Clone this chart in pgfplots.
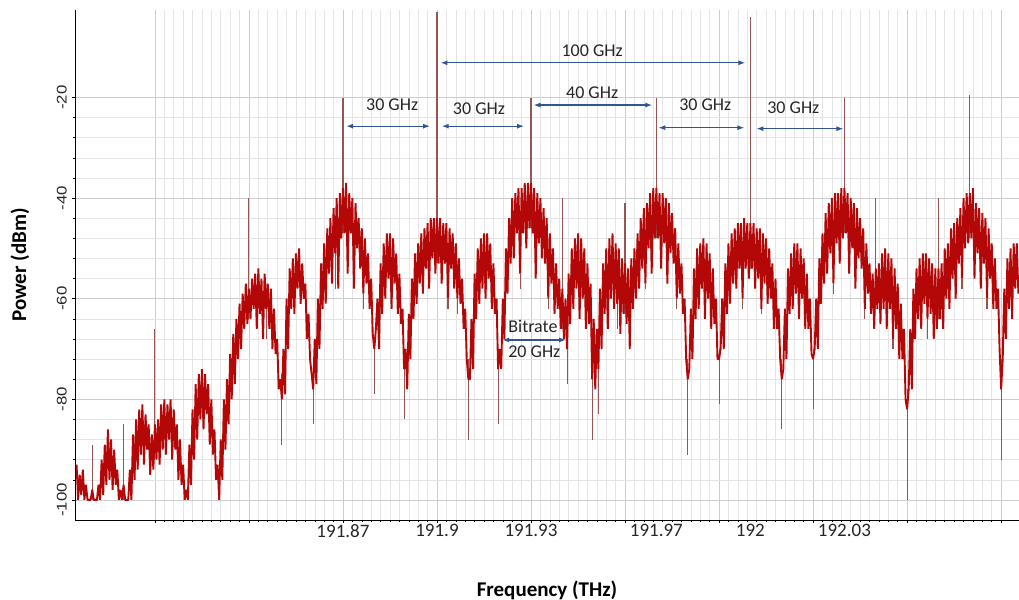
\documentclass[border=0pt]{standalone}
\usepackage{pgfplots}
\pgfplotsset{compat=1.18}
\usepackage{pgfplotstable}
\usepackage{fontspec}
\setmainfont{Carlito}
\newfontfamily\arialfont{Liberation Sans}
\usetikzlibrary{arrows.meta}
\definecolor{trace}{RGB}{180,8,8}
\definecolor{stick}{RGB}{150,85,85}
\definecolor{annblue}{RGB}{47,85,151}
\definecolor{gridmaj}{RGB}{205,205,205}
\definecolor{gridmin}{RGB}{228,228,228}
\pgfplotstableread[row sep=\\]{
x y\\
191.7850 -93\\ 191.7855 -100\\ 191.7860 -95\\ 191.7865 -99\\ 191.7870 -94\\ 191.7875 -100\\ 191.7880 -97\\ 191.7885 -100\\
191.7890 -100\\ 191.7895 -100\\ 191.7900 -98\\ 191.7905 -100\\ 191.7910 -100\\ 191.7915 -100\\ 191.7920 -97\\ 191.7925 -100\\
191.7930 -92\\ 191.7935 -99\\ 191.7940 -89\\ 191.7945 -97\\ 191.7950 -86\\ 191.7955 -96\\ 191.7960 -88\\ 191.7965 -98\\
191.7970 -90\\ 191.7975 -97\\ 191.7980 -94\\ 191.7985 -100\\ 191.7990 -98\\ 191.7995 -100\\ 191.8000 -97\\ 191.8005 -100\\
191.8010 -100\\ 191.8015 -100\\ 191.8020 -94\\ 191.8025 -100\\ 191.8030 -87\\ 191.8035 -96\\ 191.8040 -84\\ 191.8045 -94\\
191.8050 -82\\ 191.8055 -91\\ 191.8060 -81\\ 191.8065 -93\\ 191.8070 -83\\ 191.8075 -90\\ 191.8080 -85\\ 191.8085 -95\\
191.8090 -87\\ 191.8095 -94\\ 191.8100 -85\\ 191.8105 -92\\ 191.8110 -84\\ 191.8115 -93\\ 191.8120 -81\\ 191.8125 -90\\
191.8130 -80\\ 191.8135 -91\\ 191.8140 -81\\ 191.8145 -88\\ 191.8150 -80\\ 191.8155 -92\\ 191.8160 -82\\ 191.8165 -90\\
191.8170 -85\\ 191.8175 -96\\ 191.8180 -88\\ 191.8185 -97\\ 191.8190 -93\\ 191.8195 -100\\ 191.8200 -98\\ 191.8205 -100\\
191.8210 -89\\ 191.8215 -97\\ 191.8220 -82\\ 191.8225 -92\\ 191.8230 -77\\ 191.8235 -88\\ 191.8240 -75\\ 191.8245 -84\\
191.8250 -74\\ 191.8255 -86\\ 191.8260 -75\\ 191.8265 -83\\ 191.8270 -77\\ 191.8275 -89\\ 191.8280 -80\\ 191.8285 -91\\
191.8290 -86\\ 191.8295 -96\\ 191.8300 -93\\ 191.8305 -100\\ 191.8310 -88\\ 191.8315 -96\\ 191.8320 -80\\ 191.8325 -90\\
191.8330 -76\\ 191.8335 -85\\ 191.8340 -71\\ 191.8345 -80\\ 191.8350 -67\\ 191.8355 -77\\ 191.8360 -64\\ 191.8365 -72\\
191.8370 -61\\ 191.8375 -70\\ 191.8380 -59\\ 191.8385 -66\\ 191.8390 -57\\ 191.8395 -65\\ 191.8400 -58\\ 191.8405 -64\\
191.8410 -56\\ 191.8415 -62\\ 191.8420 -55\\ 191.8425 -66\\ 191.8430 -54\\ 191.8435 -63\\ 191.8440 -56\\ 191.8445 -68\\
191.8450 -55\\ 191.8455 -62\\ 191.8460 -57\\ 191.8465 -66\\ 191.8470 -58\\ 191.8475 -70\\ 191.8480 -62\\ 191.8485 -71\\
191.8490 -68\\ 191.8495 -78\\ 191.8500 -76\\ 191.8505 -80\\ 191.8510 -70\\ 191.8515 -79\\ 191.8520 -60\\ 191.8525 -70\\
191.8530 -54\\ 191.8535 -62\\ 191.8540 -52\\ 191.8545 -63\\ 191.8550 -51\\ 191.8555 -58\\ 191.8560 -50\\ 191.8565 -61\\
191.8570 -53\\ 191.8575 -60\\ 191.8580 -57\\ 191.8585 -68\\ 191.8590 -63\\ 191.8595 -72\\ 191.8600 -75\\ 191.8605 -78\\
191.8610 -68\\ 191.8615 -77\\ 191.8620 -60\\ 191.8625 -70\\ 191.8630 -53\\ 191.8635 -62\\ 191.8640 -49\\ 191.8645 -61\\
191.8650 -46\\ 191.8655 -55\\ 191.8660 -44\\ 191.8665 -57\\ 191.8670 -42\\ 191.8675 -51\\ 191.8680 -40\\ 191.8685 -58\\
191.8690 -39\\ 191.8695 -48\\ 191.8700 -38\\ 191.8705 -47\\ 191.8710 -37\\ 191.8715 -55\\ 191.8720 -39\\ 191.8725 -47\\
191.8730 -40\\ 191.8735 -58\\ 191.8740 -41\\ 191.8745 -50\\ 191.8750 -44\\ 191.8755 -54\\ 191.8760 -46\\ 191.8765 -59\\
191.8770 -48\\ 191.8775 -57\\ 191.8780 -51\\ 191.8785 -62\\ 191.8790 -56\\ 191.8795 -67\\ 191.8800 -70\\ 191.8805 -66\\
191.8810 -60\\ 191.8815 -70\\ 191.8820 -53\\ 191.8825 -63\\ 191.8830 -49\\ 191.8835 -60\\ 191.8840 -47\\ 191.8845 -56\\
191.8850 -47\\ 191.8855 -62\\ 191.8860 -48\\ 191.8865 -57\\ 191.8870 -51\\ 191.8875 -63\\ 191.8880 -55\\ 191.8885 -65\\
191.8890 -62\\ 191.8895 -74\\ 191.8900 -70\\ 191.8905 -78\\ 191.8910 -63\\ 191.8915 -72\\ 191.8920 -56\\ 191.8925 -64\\
191.8930 -51\\ 191.8935 -61\\ 191.8940 -49\\ 191.8945 -57\\ 191.8950 -47\\ 191.8955 -59\\ 191.8960 -46\\ 191.8965 -54\\
191.8970 -45\\ 191.8975 -58\\ 191.8980 -44\\ 191.8985 -52\\ 191.8990 -44\\ 191.8995 -55\\ 191.9000 -44\\ 191.9005 -53\\
191.9010 -44\\ 191.9015 -57\\ 191.9020 -45\\ 191.9025 -53\\ 191.9030 -45\\ 191.9035 -60\\ 191.9040 -46\\ 191.9045 -54\\
191.9050 -47\\ 191.9055 -58\\ 191.9060 -49\\ 191.9065 -60\\ 191.9070 -52\\ 191.9075 -61\\ 191.9080 -56\\ 191.9085 -66\\
191.9090 -62\\ 191.9095 -72\\ 191.9100 -76\\ 191.9105 -76\\ 191.9110 -64\\ 191.9115 -74\\ 191.9120 -55\\ 191.9125 -64\\
191.9130 -50\\ 191.9135 -61\\ 191.9140 -48\\ 191.9145 -58\\ 191.9150 -47\\ 191.9155 -60\\ 191.9160 -47\\ 191.9165 -56\\
191.9170 -49\\ 191.9175 -62\\ 191.9180 -53\\ 191.9185 -63\\ 191.9190 -60\\ 191.9195 -74\\ 191.9200 -70\\ 191.9205 -74\\
191.9210 -60\\ 191.9215 -68\\ 191.9220 -50\\ 191.9225 -59\\ 191.9230 -44\\ 191.9235 -53\\ 191.9240 -40\\ 191.9245 -52\\
191.9250 -39\\ 191.9255 -47\\ 191.9260 -38\\ 191.9265 -55\\ 191.9270 -38\\ 191.9275 -47\\ 191.9280 -37\\ 191.9285 -50\\
191.9290 -37\\ 191.9295 -46\\ 191.9300 -37\\ 191.9305 -47\\ 191.9310 -38\\ 191.9315 -56\\ 191.9320 -39\\ 191.9325 -49\\
191.9330 -40\\ 191.9335 -52\\ 191.9340 -42\\ 191.9345 -53\\ 191.9350 -44\\ 191.9355 -60\\ 191.9360 -47\\ 191.9365 -57\\
191.9370 -50\\ 191.9375 -63\\ 191.9380 -53\\ 191.9385 -62\\ 191.9390 -56\\ 191.9395 -66\\ 191.9400 -58\\ 191.9405 -68\\
191.9410 -60\\ 191.9415 -70\\ 191.9420 -55\\ 191.9425 -65\\ 191.9430 -50\\ 191.9435 -62\\ 191.9440 -48\\ 191.9445 -58\\
191.9450 -47\\ 191.9455 -64\\ 191.9460 -48\\ 191.9465 -60\\ 191.9470 -50\\ 191.9475 -66\\ 191.9480 -53\\ 191.9485 -65\\
191.9490 -57\\ 191.9495 -76\\ 191.9500 -64\\ 191.9505 -78\\ 191.9510 -66\\ 191.9515 -74\\ 191.9520 -58\\ 191.9525 -70\\
191.9530 -53\\ 191.9535 -63\\ 191.9540 -50\\ 191.9545 -66\\ 191.9550 -48\\ 191.9555 -60\\ 191.9560 -47\\ 191.9565 -62\\
191.9570 -49\\ 191.9575 -61\\ 191.9580 -50\\ 191.9585 -67\\ 191.9590 -52\\ 191.9595 -63\\ 191.9600 -53\\ 191.9605 -65\\
191.9610 -54\\ 191.9615 -70\\ 191.9620 -52\\ 191.9625 -62\\ 191.9630 -50\\ 191.9635 -60\\ 191.9640 -47\\ 191.9645 -58\\
191.9650 -44\\ 191.9655 -54\\ 191.9660 -42\\ 191.9665 -57\\ 191.9670 -41\\ 191.9675 -50\\ 191.9680 -39\\ 191.9685 -55\\
191.9690 -38\\ 191.9695 -48\\ 191.9700 -38\\ 191.9705 -48\\ 191.9710 -39\\ 191.9715 -54\\ 191.9720 -39\\ 191.9725 -49\\
191.9730 -40\\ 191.9735 -57\\ 191.9740 -41\\ 191.9745 -51\\ 191.9750 -43\\ 191.9755 -53\\ 191.9760 -46\\ 191.9765 -60\\
191.9770 -49\\ 191.9775 -59\\ 191.9780 -53\\ 191.9785 -63\\ 191.9790 -60\\ 191.9795 -72\\ 191.9800 -76\\ 191.9805 -74\\
191.9810 -62\\ 191.9815 -72\\ 191.9820 -54\\ 191.9825 -64\\ 191.9830 -50\\ 191.9835 -62\\ 191.9840 -49\\ 191.9845 -58\\
191.9850 -48\\ 191.9855 -64\\ 191.9860 -49\\ 191.9865 -60\\ 191.9870 -51\\ 191.9875 -66\\ 191.9880 -54\\ 191.9885 -65\\
191.9890 -60\\ 191.9895 -72\\ 191.9900 -72\\ 191.9905 -70\\ 191.9910 -60\\ 191.9915 -70\\ 191.9920 -53\\ 191.9925 -63\\
191.9930 -49\\ 191.9935 -61\\ 191.9940 -47\\ 191.9945 -57\\ 191.9950 -46\\ 191.9955 -58\\ 191.9960 -45\\ 191.9965 -54\\
191.9970 -45\\ 191.9975 -60\\ 191.9980 -44\\ 191.9985 -54\\ 191.9990 -45\\ 191.9995 -56\\ 192.0000 -45\\ 192.0005 -54\\
192.0010 -45\\ 192.0015 -58\\ 192.0020 -46\\ 192.0025 -56\\ 192.0030 -46\\ 192.0035 -62\\ 192.0040 -47\\ 192.0045 -57\\
192.0050 -48\\ 192.0055 -61\\ 192.0060 -50\\ 192.0065 -60\\ 192.0070 -53\\ 192.0075 -66\\ 192.0080 -56\\ 192.0085 -66\\
192.0090 -62\\ 192.0095 -72\\ 192.0100 -76\\ 192.0105 -74\\ 192.0110 -62\\ 192.0115 -72\\ 192.0120 -54\\ 192.0125 -63\\
192.0130 -51\\ 192.0135 -62\\ 192.0140 -49\\ 192.0145 -59\\ 192.0150 -49\\ 192.0155 -64\\ 192.0160 -50\\ 192.0165 -60\\
192.0170 -52\\ 192.0175 -66\\ 192.0180 -55\\ 192.0185 -66\\ 192.0190 -60\\ 192.0195 -71\\ 192.0200 -72\\ 192.0205 -70\\
192.0210 -60\\ 192.0215 -70\\ 192.0220 -52\\ 192.0225 -61\\ 192.0230 -47\\ 192.0235 -57\\ 192.0240 -43\\ 192.0245 -55\\
192.0250 -41\\ 192.0255 -51\\ 192.0260 -40\\ 192.0265 -57\\ 192.0270 -39\\ 192.0275 -49\\ 192.0280 -39\\ 192.0285 -53\\
192.0290 -38\\ 192.0295 -48\\ 192.0300 -38\\ 192.0305 -47\\ 192.0310 -39\\ 192.0315 -55\\ 192.0320 -40\\ 192.0325 -50\\
192.0330 -41\\ 192.0335 -58\\ 192.0340 -42\\ 192.0345 -52\\ 192.0350 -44\\ 192.0355 -54\\ 192.0360 -46\\ 192.0365 -62\\
192.0370 -49\\ 192.0375 -59\\ 192.0380 -53\\ 192.0385 -63\\ 192.0390 -55\\ 192.0395 -66\\ 192.0400 -54\\ 192.0405 -62\\
192.0410 -53\\ 192.0415 -65\\ 192.0420 -51\\ 192.0425 -62\\ 192.0430 -50\\ 192.0435 -66\\ 192.0440 -51\\ 192.0445 -62\\
192.0450 -52\\ 192.0455 -68\\ 192.0460 -54\\ 192.0465 -66\\ 192.0470 -57\\ 192.0475 -72\\ 192.0480 -61\\ 192.0485 -72\\
192.0490 -66\\ 192.0495 -80\\ 192.0500 -82\\ 192.0505 -78\\ 192.0510 -66\\ 192.0515 -78\\ 192.0520 -58\\ 192.0525 -68\\
192.0530 -54\\ 192.0535 -64\\ 192.0540 -52\\ 192.0545 -66\\ 192.0550 -51\\ 192.0555 -61\\ 192.0560 -51\\ 192.0565 -64\\
192.0570 -52\\ 192.0575 -63\\ 192.0580 -53\\ 192.0585 -68\\ 192.0590 -54\\ 192.0595 -66\\ 192.0600 -54\\ 192.0605 -64\\
192.0610 -53\\ 192.0615 -66\\ 192.0620 -50\\ 192.0625 -60\\ 192.0630 -49\\ 192.0635 -62\\ 192.0640 -46\\ 192.0645 -56\\
192.0650 -45\\ 192.0655 -60\\ 192.0660 -44\\ 192.0665 -53\\ 192.0670 -42\\ 192.0675 -56\\ 192.0680 -40\\ 192.0685 -50\\
192.0690 -39\\ 192.0695 -49\\ 192.0700 -39\\ 192.0705 -48\\ 192.0710 -38\\ 192.0715 -56\\ 192.0720 -41\\ 192.0725 -51\\
192.0730 -42\\ 192.0735 -58\\ 192.0740 -43\\ 192.0745 -53\\ 192.0750 -44\\ 192.0755 -60\\ 192.0760 -46\\ 192.0765 -56\\
192.0770 -49\\ 192.0775 -62\\ 192.0780 -52\\ 192.0785 -62\\ 192.0790 -58\\ 192.0795 -70\\ 192.0800 -78\\ 192.0805 -72\\
192.0810 -58\\ 192.0815 -68\\ 192.0820 -52\\ 192.0825 -62\\ 192.0830 -50\\ 192.0835 -64\\ 192.0840 -49\\ 192.0845 -58\\
192.0850 -49\\ 192.0855 -59\\
}\spectrum
\pgfplotstableread[row sep=\\]{
x y\\
191.7900 -100\\ 191.7900 -89\\ nan nan\\ 191.8000 -100\\ 191.8000 -85\\ nan nan\\
191.8100 -92\\ 191.8100 -66\\ nan nan\\ 191.8400 -64\\ 191.8400 -40\\ nan nan\\
191.8455 -62\\ 191.8455 -68\\ nan nan\\ 191.8505 -75\\ 191.8505 -89\\ nan nan\\
191.8605 -72\\ 191.8605 -85\\ nan nan\\ 191.8675 -51\\ 191.8675 -58\\ nan nan\\
191.8700 -47\\ 191.8700 -20\\ nan nan\\ 191.8765 -59\\ 191.8765 -62\\ nan nan\\
191.8800 -68\\ 191.8800 -79\\ nan nan\\ 191.8895 -70\\ 191.8895 -84\\ nan nan\\
191.9000 -53\\ 191.9000 -3\\ nan nan\\ 191.9035 -60\\ 191.9035 -62\\ nan nan\\
191.9065 -60\\ 191.9065 -63\\ nan nan\\ 191.9100 -72\\ 191.9100 -88\\ nan nan\\
191.9195 -70\\ 191.9195 -85\\ nan nan\\ 191.9265 -55\\ 191.9265 -58\\ nan nan\\
191.9300 -46\\ 191.9300 -20\\ nan nan\\ 191.9355 -60\\ 191.9355 -62\\ nan nan\\
191.9400 -66\\ 191.9400 -40\\ nan nan\\ 191.9415 -68\\ 191.9415 -77\\ nan nan\\
191.9495 -70\\ 191.9495 -88\\ nan nan\\ 191.9515 -70\\ 191.9515 -83\\ nan nan\\
191.9575 -61\\ 191.9575 -66\\ nan nan\\ 191.9600 -63\\ 191.9600 -41\\ nan nan\\
191.9665 -57\\ 191.9665 -58\\ nan nan\\ 191.9700 -48\\ 191.9700 -20\\ nan nan\\
191.9765 -60\\ 191.9765 -62\\ nan nan\\ 191.9800 -72\\ 191.9800 -91\\ nan nan\\
191.9900 -70\\ 191.9900 -81\\ nan nan\\ 191.9975 -60\\ 191.9975 -62\\ nan nan\\
192.0000 -54\\ 192.0000 -4\\ nan nan\\ 192.0035 -62\\ 192.0035 -63\\ nan nan\\
192.0100 -72\\ 192.0100 -86\\ nan nan\\ 192.0200 -70\\ 192.0200 -82\\ nan nan\\
192.0265 -57\\ 192.0265 -59\\ nan nan\\ 192.0300 -47\\ 192.0300 -20\\ nan nan\\
192.0365 -62\\ 192.0365 -64\\ nan nan\\ 192.0400 -62\\ 192.0400 -40\\ nan nan\\
192.0455 -68\\ 192.0455 -70\\ nan nan\\ 192.0500 -78\\ 192.0500 -100\\ nan nan\\
192.0565 -64\\ 192.0565 -68\\ nan nan\\ 192.0600 -64\\ 192.0600 -40\\ nan nan\\
192.0675 -56\\ 192.0675 -58\\ nan nan\\ 192.0700 -48\\ 192.0700 -19.6\\ nan nan\\
192.0755 -60\\ 192.0755 -62\\ nan nan\\ 192.0800 -72\\ 192.0800 -92\\
}\sticks
\newcommand{\tickfont}{\fontsize{19bp}{22bp}\selectfont}
\newcommand{\ytickfont}{\arialfont\fontsize{14bp}{16bp}\selectfont}
\newcommand{\annfont}{\fontsize{18bp}{21bp}\selectfont}
\newcommand{\labfont}{\fontsize{21bp}{24bp}\selectfont\bfseries}
\begin{document}
\begin{tikzpicture}
\useasboundingbox (0,0) rectangle (1019bp,600bp);
\begin{axis}[
  at={(75bp,80bp)}, anchor=south west,
  scale only axis, width=944bp, height=510bp,
  xmin=191.7845, xmax=192.0857, ymin=-104, ymax=-2.6,
  axis x line*=bottom, axis y line*=left,
  axis line style={black, line width=0.8bp},
  clip mode=individual,
  xtick={191.81,191.84,191.87,191.90,191.93,191.96,191.99,192.02,192.05,192.08},
  xticklabels={,,,,,,,,,},
  minor x tick num=9,
  extra x ticks={191.87,191.9,191.93,191.97,192,192.03},
  extra x tick labels={191.87,191.9,191.93,191.97,192,192.03},
  extra x tick style={grid=none, major tick length=0pt},
  ytick={-100,-80,-60,-40,-20},
  yticklabels={-100,-80,-60,-40,-20},
  minor y tick num=4,
  grid=both,
  major grid style={gridmaj, line width=0.6bp},
  minor grid style={gridmin, line width=0.5bp},
  tick style={black, line width=0.5bp},
  major tick length=3bp, minor tick length=2bp,
  tick align=outside,
  xticklabel style={font=\tickfont, text=black!85},
  yticklabel style={font=\ytickfont, text=black!85, rotate=90, xscale=1.2, anchor=south, inner sep=0pt},
  yticklabel shift={5bp},
  xticklabel shift={1bp},
  xlabel={Frequency (THz)},
  ylabel={Power (dBm)},
  xlabel style={font=\labfont, at={(axis description cs:0.5,-0.137)}, anchor=center},
  ylabel style={font=\labfont, at={(axis description cs:-0.0583,0.5)}, anchor=center},
  unbounded coords=jump,
]
\addplot[stick, line width=1.1bp] table[x=x, y=y] {\sticks};
\addplot[trace, line width=1.9bp, line join=bevel] table[x=x, y=y] {\spectrum};

\begin{scope}[annblue, line width=1.3bp, {Latex[length=7bp,width=5bp]}-{Latex[length=7bp,width=5bp]}]
\draw (axis cs:191.9011,-13.1) -- (axis cs:191.9984,-13.1);
\draw (axis cs:191.8710,-25.7) -- (axis cs:191.8978,-25.7);
\draw (axis cs:191.9015,-25.7) -- (axis cs:191.9278,-25.7);
\draw (axis cs:191.9308,-21.5) -- (axis cs:191.9687,-21.5);
\draw (axis cs:191.9706,-26.0) -- (axis cs:191.9981,-26.0);
\draw (axis cs:192.0019,-26.2) -- (axis cs:192.0297,-26.2);
\draw (axis cs:191.9208,-68.2) -- (axis cs:191.9412,-68.2);
\end{scope}
\begin{scope}[every node/.style={font=\annfont, text=black!85, inner sep=0pt}]
\node at (axis cs:191.9495,-10.6) {100 GHz};
\node at (axis cs:191.8857,-21.4) {30 GHz};
\node at (axis cs:191.9134,-22.2) {30 GHz};
\node at (axis cs:191.9495,-19.0) {40 GHz};
\node at (axis cs:191.9856,-21.5) {30 GHz};
\node at (axis cs:192.0137,-22.0) {30 GHz};
\node[anchor=west] at (axis cs:191.9227,-65.6) {Bitrate};
\node[anchor=west] at (axis cs:191.9227,-70.6) {20 GHz};
\end{scope}
\end{axis}
\end{tikzpicture}
\end{document}
